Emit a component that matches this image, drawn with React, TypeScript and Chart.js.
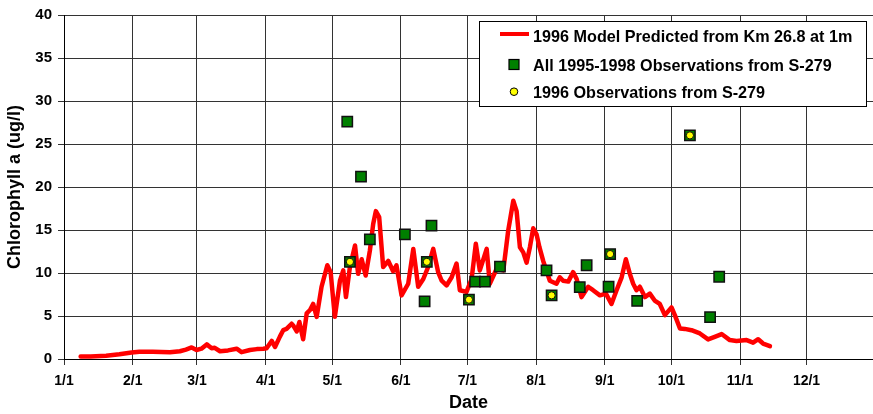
import React, { useEffect, useRef } from 'react';
import { Chart, registerables } from 'chart.js';

Chart.register(...registerables);

// x values are day-of-year 1996 (0 = Jan 1)
const MONTH_STARTS = [0, 31, 60, 91, 121, 152, 182, 213, 244, 274, 305, 335];
const MONTH_LABELS = ['1/1', '2/1', '3/1', '4/1', '5/1', '6/1', '7/1', '8/1', '9/1', '10/1', '11/1', '12/1'];
const Y_TICKS_STEP = 5;

const modelDays = [
  7.5, 12, 19, 25, 30.5, 34, 40, 47.8, 52.3, 55, 57.6, 59.8, 62, 64.4, 66.6, 68, 70.4, 74, 77.9, 80.1,
  83.9, 87, 89.9, 91.4, 93.7, 95.2, 97.4, 98.9, 100.4, 102.7, 103.4, 105, 106.2, 107.9, 109.5, 111, 112.4,
  114, 116.2, 118.8, 120.3, 122.2, 124.5, 126, 127.2, 129, 131.3, 132.7, 134.3, 136.1, 138, 139.5, 140.7,
  142.2, 144, 146.3, 148.5, 150, 152.3, 155.3, 157.6, 159.8, 162.1, 164.3, 166.6, 168.8, 170.4, 172.6,
  174.9, 177.1, 178.6, 181.6, 183.9, 185.8, 187.6, 190.7, 192.1, 195.2, 198.2, 200.4, 202.7, 204.2, 205.7,
  207.2, 208.7, 210.2, 211.7, 213.2, 214.5, 216.2, 219.2, 222.2, 223.7, 225.2, 227.5, 229.7, 231.3, 233.5,
  236.5, 238.7, 241.8, 244.5, 247, 249.3, 251.6, 253.5, 255.3, 256.8, 258.3, 259.8, 262.1, 264.3, 266.5,
  268.8, 271.1, 274.1, 275.6, 277.9, 280.1, 283.1, 286.9, 290.6, 293.6, 296.7, 300.4, 303.4, 308, 310.9,
  313.2, 315.4, 318.5,
];
const modelValues = [
  0.3, 0.3, 0.38, 0.55, 0.75, 0.85, 0.85, 0.78, 0.9, 1.1, 1.35, 1.05, 1.2, 1.7, 1.25, 1.3, 0.9, 1.0, 1.2, 0.8,
  1.05, 1.15, 1.2, 1.25, 2.1, 1.4, 2.6, 3.35, 3.5, 4.1, 3.9, 3.2, 4.3, 2.3, 5.3, 5.7, 6.4,
  4.9, 8.4, 10.9, 10.1, 4.9, 9.1, 10.3, 7.2, 10.7, 13.2, 9.9, 11.6, 9.7, 12.6, 15.7, 17.2,
  16.5, 10.7, 11.4, 10.2, 10.9, 7.4, 8.75, 12.8, 8.4, 9.3, 10.7, 12.8, 10.1, 9.1, 8.55,
  9.5, 11.1, 8.0, 7.8, 9.3, 13.4, 10.3, 12.8, 8.75, 10.5, 10.3, 14.9, 18.4, 17.2, 13.0,
  12.4, 11.2, 13.0, 15.2, 14.5, 13.0, 11.4, 9.1, 8.75, 9.5, 9.1, 9.0, 10.1, 9.3, 7.2,
  8.4, 8.0, 7.4, 7.6, 6.4, 8.0, 9.5, 11.6, 9.9, 8.75, 8.0, 8.4, 7.2, 7.6, 6.8,
  6.4, 5.1, 6.0, 5.1, 3.55, 3.5, 3.35, 2.97, 2.28, 2.58, 2.9, 2.2, 2.1, 2.2, 1.9,
  2.3, 1.8, 1.5,
];

const allObsDays = [127.8, 129, 134, 138, 153.8, 162.7, 163.7, 165.8, 182.7, 185.5, 189.9, 196.7, 217.7, 220, 232.7, 235.8, 245.7, 246.4, 258.6, 282.4, 291.5, 295.6];
const allObsValues = [27.6, 11.3, 21.2, 13.9, 14.5, 6.7, 11.3, 15.5, 6.9, 9.0, 9.0, 10.75, 10.3, 7.4, 8.36, 10.9, 8.4, 12.2, 6.75, 26.0, 4.86, 9.56];

const obs96Days = [129, 163.7, 182.7, 220, 246.4, 282.4];
const obs96Values = [11.3, 11.3, 6.9, 7.4, 12.2, 26.0];

const LEGEND_LABELS = [
  '1996 Model Predicted from Km 26.8 at 1m',
  'All 1995-1998 Observations from S-279',
  '1996 Observations from S-279',
];

const FONT = 'Arial, "Liberation Sans", Helvetica, sans-serif';
const RED = '#ff0000';
const GREEN = '#008000';
const YELLOW = '#ffff00';

const legendPlugin = {
  id: 'customLegend',
  afterDraw(chart: any) {
    const ctx = chart.ctx as CanvasRenderingContext2D;
    ctx.save();
    const bx = 479.5, by = 21.5, bw = 387, bh = 85;
    ctx.fillStyle = '#ffffff';
    ctx.fillRect(bx, by, bw, bh);
    ctx.strokeStyle = '#000000';
    ctx.lineWidth = 1;
    ctx.strokeRect(bx, by, bw, bh);

    ctx.strokeStyle = RED;
    ctx.lineWidth = 4;
    ctx.beginPath();
    ctx.moveTo(500, 34);
    ctx.lineTo(529, 34);
    ctx.stroke();

    ctx.fillStyle = GREEN;
    ctx.fillRect(509, 59.5, 10, 10);
    ctx.strokeStyle = '#000';
    ctx.lineWidth = 1.2;
    ctx.strokeRect(509, 59.5, 10, 10);

    ctx.beginPath();
    ctx.arc(514, 91.7, 3.8, 0, Math.PI * 2);
    ctx.fillStyle = YELLOW;
    ctx.fill();
    ctx.strokeStyle = '#000';
    ctx.lineWidth = 1;
    ctx.stroke();

    ctx.fillStyle = '#000';
    ctx.font = `bold 16.2px ${FONT}`;
    ctx.textBaseline = 'alphabetic';
    ctx.textAlign = 'left';
    const ys = [42, 71, 98];
    LEGEND_LABELS.forEach((t, i) => ctx.fillText(t, 533, ys[i]));
    ctx.restore();
  },
};

export default function App() {
  const ref = useRef<HTMLCanvasElement | null>(null);

  useEffect(() => {
    if (!ref.current) return;
    const chart = new Chart(ref.current, {
      type: 'scatter',
      data: {
        datasets: [
          {
            label: LEGEND_LABELS[2],
            data: obs96Days.map((d, i) => ({ x: d, y: obs96Values[i] })),
            pointStyle: 'circle',
            pointRadius: 3.6,
            pointBackgroundColor: YELLOW,
            pointBorderColor: '#111',
            pointBorderWidth: 1,
            order: 1,
          },
          {
            label: LEGEND_LABELS[1],
            data: allObsDays.map((d, i) => ({ x: d, y: allObsValues[i] })),
            pointStyle: 'rect',
            pointRadius: 7.3,
            pointBackgroundColor: GREEN,
            pointBorderColor: '#111',
            pointBorderWidth: 1.5,
            order: 2,
          },
          {
            label: LEGEND_LABELS[0],
            data: modelDays.map((d, i) => ({ x: d, y: modelValues[i] })),
            showLine: true,
            borderColor: RED,
            borderWidth: 4.5,
            pointRadius: 0,
            tension: 0,
            borderJoinStyle: 'round',
            borderCapStyle: 'round',
            order: 3,
          } as any,
        ],
      },
      options: {
        animation: false,
        responsive: false,
        devicePixelRatio: 1,
        layout: { autoPadding: false, padding: { top: 13, left: 0, right: 0, bottom: 0 } },
        plugins: { legend: { display: false }, tooltip: { enabled: false } },
        scales: {
          x: {
            type: 'linear',
            min: 0,
            max: 365,
            afterBuildTicks: (s: any) => {
              s.ticks = MONTH_STARTS.map((v) => ({ value: v }));
            },
            afterFit: (s: any) => {
              s.height = 55;
              s.paddingLeft = 0;
              s.paddingRight = 0;
            },
            ticks: {
              autoSkip: false,
              maxRotation: 0,
              padding: 8,
              color: '#000',
              font: { family: FONT, size: 14, weight: 'bold' },
              callback: (v: any) => MONTH_LABELS[MONTH_STARTS.indexOf(Number(v))] ?? '',
            },
            grid: { color: '#333', lineWidth: 1, tickLength: 6 },
            border: { color: '#000', width: 1 },
            title: {
              display: true,
              text: 'Date',
              color: '#000',
              font: { family: FONT, size: 18, weight: 'bold' },
              padding: { top: 0, bottom: 0 },
            },
          },
          y: {
            min: 0,
            max: 40,
            afterFit: (s: any) => {
              s.width = 64;
            },
            ticks: {
              stepSize: Y_TICKS_STEP,
              padding: 6,
              color: '#000',
              font: { family: FONT, size: 15, weight: 'bold' },
            },
            grid: { color: '#333', lineWidth: 1, tickLength: 6 },
            border: { color: '#000', width: 1 },
            title: {
              display: true,
              text: 'Chlorophyll a (ug/l)',
              color: '#000',
              font: { family: FONT, size: 18, weight: 'bold' },
              padding: { top: 4, bottom: 0 },
            },
          },
        },
      } as any,
      plugins: [legendPlugin],
    });
    return () => chart.destroy();
  }, []);

  return (
    <div style={{ position: 'absolute', left: 0, top: 0, width: 873, height: 414, background: '#fff' }}>
      <canvas ref={ref} width={873} height={414} style={{ display: 'block' }} />
    </div>
  );
}
